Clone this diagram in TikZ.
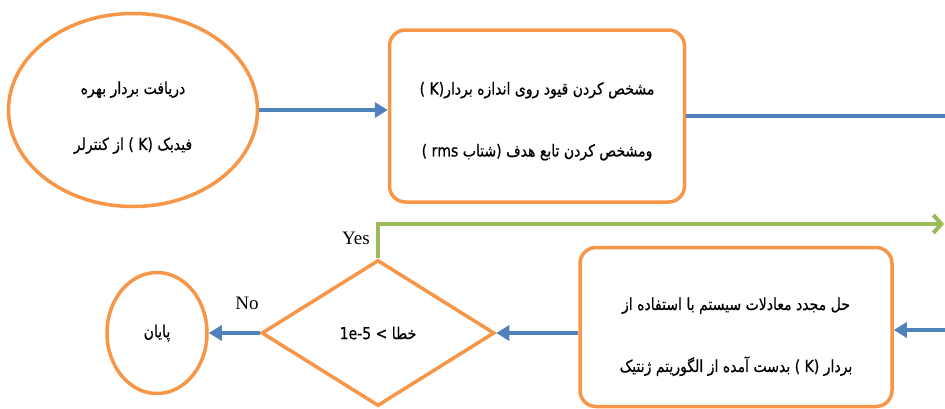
\documentclass[tikz,border=0pt]{standalone}
\usepackage{fontspec}
\setmainfont{Liberation Serif}
\newfontfamily\arabicfont[Script=Arabic, FakeStretch=0.85, FakeBold=0.6]{DejaVu Sans}
\TeXXeTstate=1
\usepackage{tikz}
\usetikzlibrary{arrows.meta,shapes.geometric,positioning,calc}
\definecolor{boxorange}{HTML}{F79646}
\definecolor{flowblue}{HTML}{4F81BD}
\definecolor{loopgreen}{HTML}{9BBB59}
\newcommand{\rtltext}[1]{\beginR #1\endR}
\newcommand{\ltrtext}[1]{\beginL #1\endL}

\begin{document}
\begin{tikzpicture}[x=1pt, y=-1pt,
    stepbox/.style={draw=boxorange, line width=3.5pt, fill=white, rounded corners=16pt, align=center, font=\arabicfont\fontsize{16.5}{62}\selectfont},
    oval/.style={draw=boxorange, line width=3.5pt, fill=white, ellipse, align=center, font=\arabicfont\fontsize{16.5}{56}\selectfont},
    test/.style={draw=boxorange, line width=3.5pt, fill=white, diamond, align=center, font=\arabicfont\fontsize{16.5}{20}\selectfont},
    arr/.style={-{Triangle[length=13pt, width=15pt]}, line width=4.5pt, draw=flowblue},
    yesarr/.style={-{Straight Barb[length=8pt, width=18pt]}, line width=4pt, draw=loopgreen},
    lbl/.style={font=\fontsize{19}{20}\selectfont}
]
\useasboundingbox (0,0) rectangle (945,408);

\node[oval, minimum width=249pt, minimum height=193pt] (recv) at (133,110)
    {\mbox{}\\[-28pt]\rtltext{دریافت بردار بهره}\\ \rtltext{فیدبک (\ltrtext{K} ) از کنترلر}};
\node[stepbox, minimum width=295pt, minimum height=172pt] (limits) at (537,116)
    {\mbox{}\\[-39pt]\rtltext{مشخص کردن قیود روی اندازه بردار(\ltrtext{K} )}\\ \rtltext{ومشخص کردن تابع هدف (شتاب \ltrtext{rms} )}};
\node[stepbox, minimum width=312pt, minimum height=159pt] (resolve) at (736,327)
    {\mbox{}\\[-30pt]\rtltext{حل مجدد معادلات سیستم با استفاده از}\\ \rtltext{بردار (\ltrtext{K} ) بدست آمده از الگوریتم ژنتیک}};
\node[test, minimum width=233pt, minimum height=146pt] (check) at (378,333)
    {\rtltext{خطا > \ltrtext{1e-5}}};
\node[oval, minimum width=100pt, minimum height=121pt] (done) at (157,333)
    {\rtltext{پایان}};

\coordinate (outtop) at (945,116);
\coordinate (outloop) at (944,224);
\coordinate (inback) at (945,330);

\draw[arr] (recv.east) -- (recv.east -| limits.west);
\draw[line width=4.5pt, draw=flowblue] (limits.east) -- (outtop);
\draw[yesarr] (check.north) |- (outloop);
\draw[arr] (inback) -- (inback -| resolve.east);
\draw[arr] (resolve.west |- check.east) -- (check.east);
\draw[arr] (check.west) -- (done.east);

\node[lbl] (yes) at (356,238) {Yes};
\node[lbl] (no) at (247,303) {No};
\end{tikzpicture}
\end{document}
